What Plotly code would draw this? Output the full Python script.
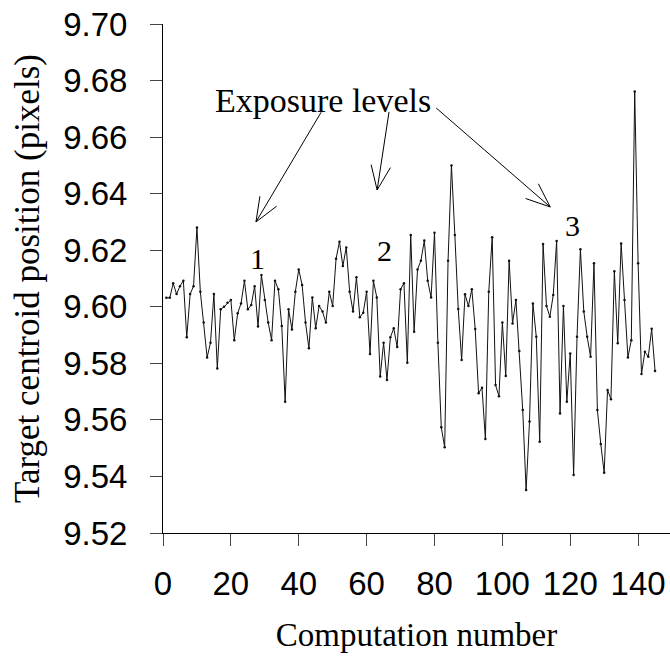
import plotly.graph_objects as go
import math

computation = list(range(1, 146))
centroid = [
    9.6032, 9.6032, 9.6083, 9.6045, 9.6073, 9.6092, 9.5892, 9.6045, 9.6073, 9.6280,
    9.6053, 9.5944, 9.5821, 9.5873, 9.6045, 9.5782, 9.5991, 9.6000, 9.6014, 9.6024,
    9.5882, 9.5977, 9.6012, 9.6092, 9.5991, 9.6006, 9.6073, 9.5930, 9.6112, 9.6024,
    9.5944, 9.5882, 9.6092, 9.6062, 9.5932, 9.5664, 9.5991, 9.5920, 9.6053, 9.6132,
    9.6077, 9.5944, 9.5853, 9.6033, 9.5924, 9.6003, 9.5983, 9.5944, 9.6053, 9.6003,
    9.6170, 9.6230, 9.6144, 9.6210, 9.6053, 9.5983, 9.6104, 9.5963, 9.5979, 9.6053,
    9.5833, 9.6092, 9.6033, 9.5753, 9.5873, 9.5741, 9.5892, 9.5924, 9.5858, 9.6062,
    9.6083, 9.5802, 9.6254, 9.5912, 9.6132, 9.6163, 9.6234, 9.6092, 9.6033, 9.6262,
    9.5873, 9.5574, 9.5503, 9.6163, 9.6500, 9.6254, 9.5992, 9.5812, 9.6044, 9.6003,
    9.6062, 9.5921, 9.5694, 9.5714, 9.5532, 9.6053, 9.6246, 9.5723, 9.5684, 9.5944,
    9.5755, 9.6163, 9.5941, 9.6024, 9.5844, 9.5635, 9.5352, 9.5594, 9.6012, 9.5894,
    9.5523, 9.6222, 9.6003, 9.5965, 9.6042, 9.6233, 9.5623, 9.6003, 9.5664, 9.5835,
    9.5405, 9.5894, 9.6203, 9.5983, 9.5894, 9.5823, 9.6154, 9.5635, 9.5515, 9.5413,
    9.5706, 9.5673, 9.6126, 9.5871, 9.6224, 9.6024, 9.5821, 9.5882, 9.6761, 9.6154,
    9.5762, 9.5841, 9.5823, 9.5922, 9.5773,
]
x_ticks = [0, 20, 40, 60, 80, 100, 120, 140]
y_ticks = [9.52, 9.54, 9.56, 9.58, 9.60, 9.62, 9.64, 9.66, 9.68, 9.70]
x_title = "Computation number"
y_title = "Target centroid position (pixels)"
note_text = "Exposure levels"
level_labels = ["1", "2", "3"]
# annotation anchor positions (data coords)
level_pos = [(27.7, 9.6172), (65.4, 9.6200), (120.8, 9.6286)]
arrow_tails = [(46.6, 9.6688), (66.6, 9.6689), (80.5, 9.6703)]
arrow_tips = [(27.4, 9.6300), (63.1, 9.6413), (114.1, 9.6353)]
note_pos = (47.0, 9.6731)

X_RANGE = [0, 149.4]
Y_RANGE = [9.52, 9.70]
W, H = 670, 663
ML, MR, MT, MB = 163, 0, 24, 130
px_per_x = (W - ML - MR) / (X_RANGE[1] - X_RANGE[0])
px_per_y = (H - MT - MB) / (Y_RANGE[1] - Y_RANGE[0])

fig = go.Figure()
fig.add_trace(go.Scatter(
    x=computation, y=centroid, mode="lines+markers",
    line=dict(color="#111111", width=1),
    marker=dict(color="#111111", size=2.5),
    showlegend=False,
))

shapes = []
for (tx, ty), (hx, hy) in zip(arrow_tails, arrow_tips):
    shapes.append(dict(type="line", xref="x", yref="y", x0=tx, y0=ty, x1=hx, y1=hy,
                       line=dict(color="black", width=1)))
    # open V head, computed in pixel space
    dxp = (tx - hx) * px_per_x
    dyp = (ty - hy) * px_per_y
    L = math.hypot(dxp, dyp)
    ux, uy = dxp / L, dyp / L
    for ang in (math.radians(22), -math.radians(22)):
        rx = ux * math.cos(ang) - uy * math.sin(ang)
        ry = ux * math.sin(ang) + uy * math.cos(ang)
        hl = 26
        shapes.append(dict(type="line", xref="x", yref="y", x0=hx, y0=hy,
                           x1=hx + rx * hl / px_per_x, y1=hy + ry * hl / px_per_y,
                           line=dict(color="black", width=1)))

annotations = [dict(x=note_pos[0], y=note_pos[1], xref="x", yref="y", text=note_text,
                    showarrow=False, font=dict(family="Liberation Serif", size=34, color="black"))]
for lab, (lx, ly) in zip(level_labels, level_pos):
    annotations.append(dict(x=lx, y=ly, xref="x", yref="y", text=lab, showarrow=False,
                            font=dict(family="Liberation Serif", size=30, color="black")))

fig.update_layout(
    width=W, height=H,
    margin=dict(l=ML, r=MR, t=MT, b=MB),
    paper_bgcolor="white", plot_bgcolor="white",
    shapes=shapes, annotations=annotations,
    xaxis=dict(range=X_RANGE, tickvals=x_ticks, ticks="outside", ticklen=12, tickcolor="#444",
               showline=True, linecolor="black", linewidth=1, showgrid=False, zeroline=False,
               tickfont=dict(family="Liberation Sans", size=33, color="black"),
               ticklabelstandoff=9,
               title=dict(text=x_title, font=dict(family="Liberation Serif", size=33, color="black"),
                          standoff=22)),
    yaxis=dict(range=Y_RANGE, tickvals=y_ticks, tickformat=".2f", ticks="outside", ticklen=12,
               tickcolor="#444", showline=True, linecolor="black", linewidth=1, showgrid=False,
               zeroline=False,
               tickfont=dict(family="Liberation Sans", size=33, color="black"),
               ticklabelstandoff=16,
               title=dict(text=y_title, font=dict(family="Liberation Serif", size=35, color="black"),
                          standoff=12)),
)
fig.write_html("out.html")
